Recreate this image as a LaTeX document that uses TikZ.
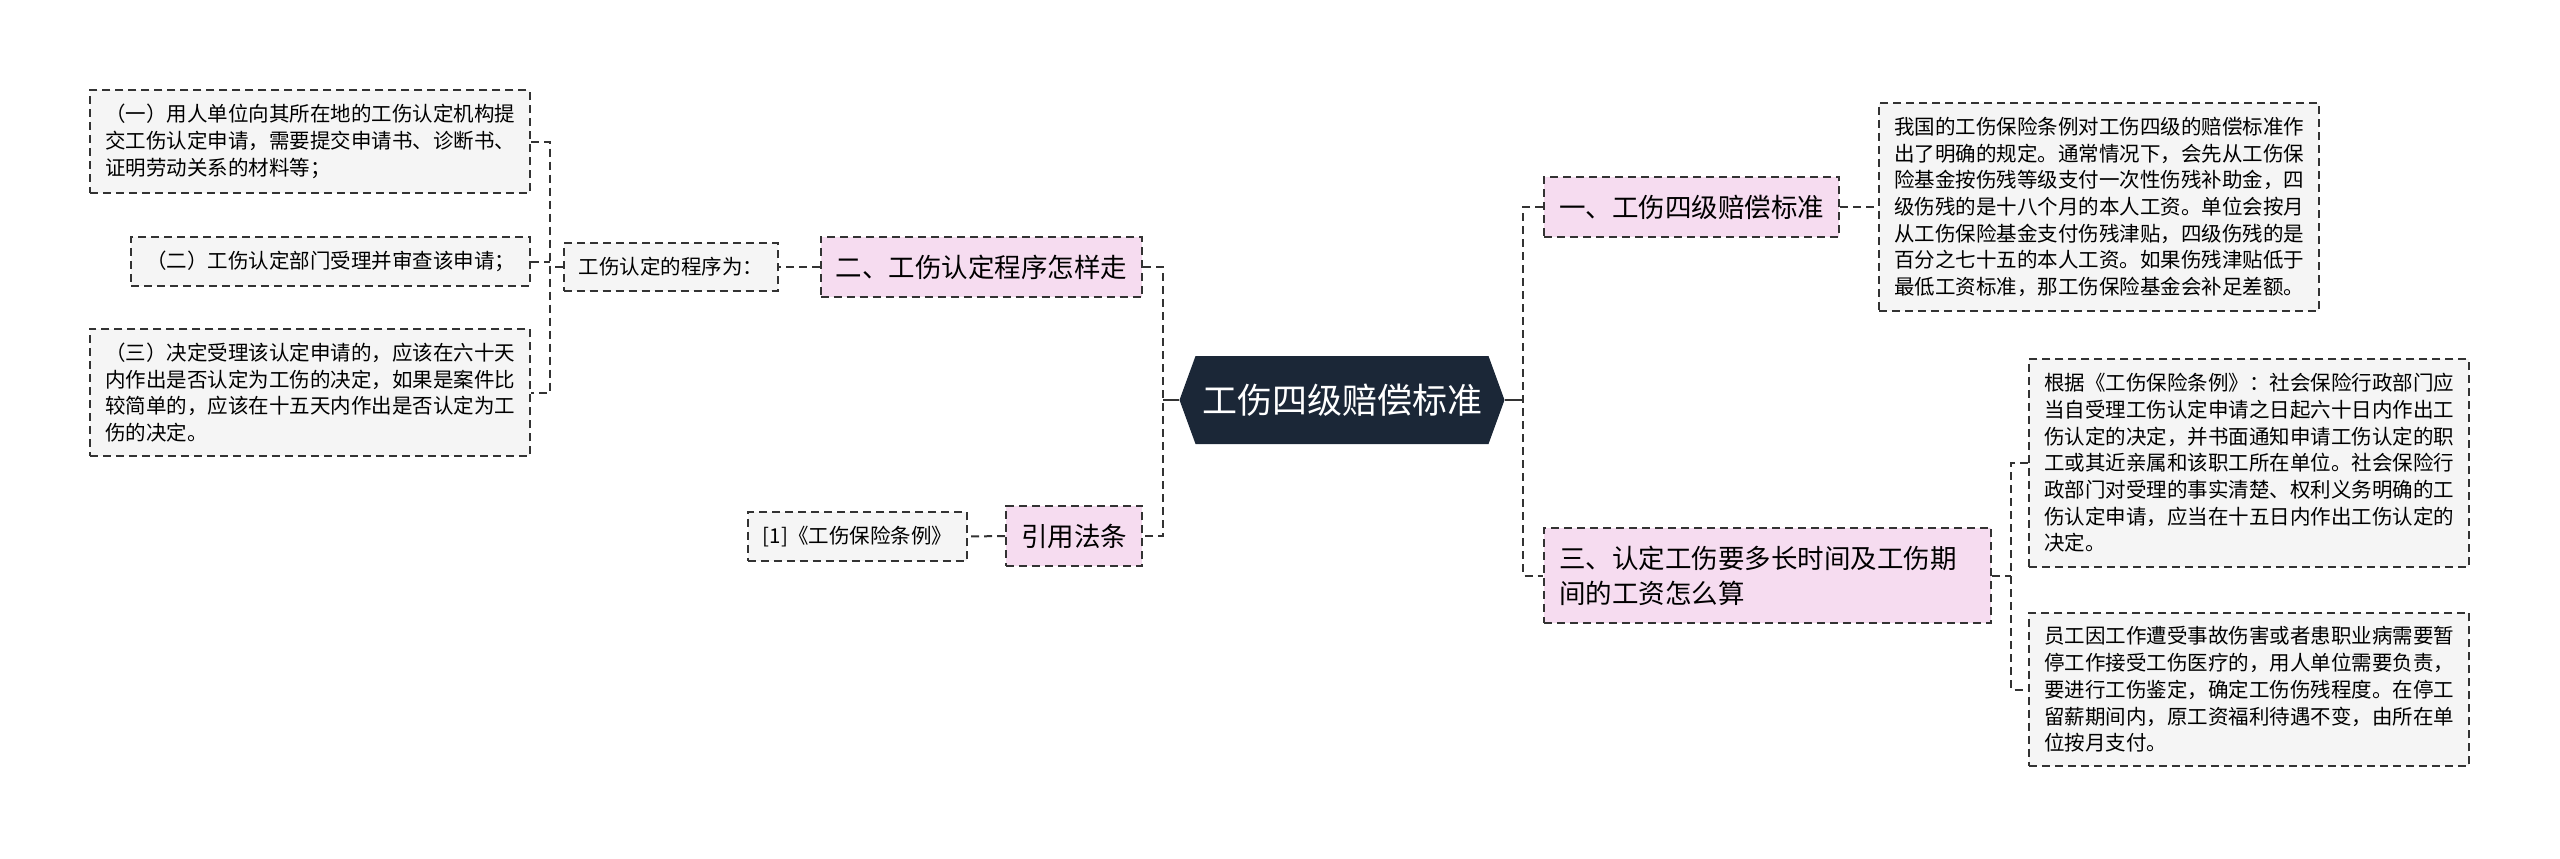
\documentclass[tikz,border=0pt]{standalone}
\usepackage{fontspec}
\setmainfont{Noto Sans CJK SC}
\usetikzlibrary{shapes.symbols}
\definecolor{rootfill}{HTML}{1B2737}
\definecolor{topicpink}{HTML}{F6DCF0}
\definecolor{leafgray}{HTML}{F5F5F5}
\definecolor{linegray}{HTML}{333333}
\begin{document}
\begin{tikzpicture}[
        x=1pt, y=-1pt,
        linkline/.style={draw=linegray, line width=2pt, dash pattern=on 8pt off 5pt},
        leafbox/.style={linkline, fill=leafgray, align=left, inner xsep=15pt, inner ysep=14pt, font=\fontsize{20.5}{26.7}\selectfont},
        topicbox/.style={linkline, fill=topicpink, align=left, inner xsep=15pt, inner ysep=18pt, font=\fontsize{26.5}{35}\selectfont},
        rootnode/.style={signal, signal to=east and west, signal pointer angle=140, fill=rootfill, text=white, minimum height=88pt, minimum width=325pt, font=\fontsize{35}{42}\selectfont},
    ]
    \useasboundingbox (0,0) rectangle (2560,859);
    \node[rootnode](root) at (1342,400){工伤四级赔偿标准};
    \node[topicbox, anchor=east](sec2) at (1143,267){二、工伤认定程序怎样走};
    \node[topicbox, anchor=east](cite) at (1143,536){引用法条};
    \node[topicbox, anchor=west](sec1) at (1543,207){一、工伤四级赔偿标准};
    \node[topicbox, anchor=west, text width=417pt](sec3) at (1543,575.5){三、认定工伤要多长时间及工伤期\\间的工资怎么算};
    \node[leafbox, anchor=east](steps) at (779,267){工伤认定的程序为：};
    \node[leafbox, anchor=east](step1) at (531,141.5){（一）用人单位向其所在地的工伤认定机构提\\交工伤认定申请，需要提交申请书、诊断书、\\证明劳动关系的材料等；};
    \node[leafbox, anchor=east](step2) at (531,261.5){（二）工伤认定部门受理并审查该申请；};
    \node[leafbox, anchor=east](step3) at (531,392.5){（三）决定受理该认定申请的，应该在六十天\\内作出是否认定为工伤的决定，如果是案件比\\较简单的，应该在十五天内作出是否认定为工\\伤的决定。};
    \node[leafbox, anchor=east](law) at (968,536.5){[1]《工伤保险条例》};
    \node[leafbox, anchor=west](text1) at (1878,207){我国的工伤保险条例对工伤四级的赔偿标准作\\出了明确的规定。通常情况下，会先从工伤保\\险基金按伤残等级支付一次性伤残补助金，四\\级伤残的是十八个月的本人工资。单位会按月\\从工伤保险基金支付伤残津贴，四级伤残的是\\百分之七十五的本人工资。如果伤残津贴低于\\最低工资标准，那工伤保险基金会补足差额。};
    \node[leafbox, anchor=west](text2) at (2028,463){根据《工伤保险条例》：社会保险行政部门应\\当自受理工伤认定申请之日起六十日内作出工\\伤认定的决定，并书面通知申请工伤认定的职\\工或其近亲属和该职工所在单位。社会保险行\\政部门对受理的事实清楚、权利义务明确的工\\伤认定申请，应当在十五日内作出工伤认定的\\决定。};
    \node[leafbox, anchor=west](text3) at (2028,689.5){员工因工作遭受事故伤害或者患职业病需要暂\\停工作接受工伤医疗的，用人单位需要负责，\\要进行工伤鉴定，确定工伤伤残程度。在停工\\留薪期间内，原工资福利待遇不变，由所在单\\位按月支付。};
    \coordinate (lj) at (1163,400);
    \coordinate (rj) at (1523,400);
    \coordinate (sj) at (550,267);
    \coordinate (tj) at (2011,575.5);
    \draw[linkline, solid] (root.west) -- (lj);
    \draw[linkline] (sec2.east) -| (lj) |- (cite.east);
    \draw[linkline, solid] (root.east) -- (rj);
    \draw[linkline] (sec1.west) -| (rj) |- (sec3.west);
    \draw[linkline] (sec2.west) -- (steps.east);
    \draw[linkline] (steps.west) -- (sj);
    \draw[linkline] (step1.east) -| (sj) |- (step3.east);
    \draw[linkline] (step2.east) -- (sj |- step2.east);
    \draw[linkline] (cite.west) -- (law.east);
    \draw[linkline] (sec1.east) -- (text1.west);
    \draw[linkline] (sec3.east) -- (tj);
    \draw[linkline] (text2.west) -| (tj) |- (text3.west);
\end{tikzpicture}
\end{document}
